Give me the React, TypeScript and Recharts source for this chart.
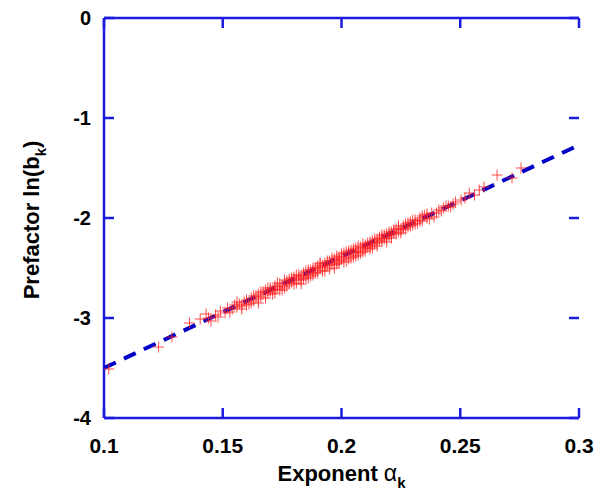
import { ScatterChart, Scatter, XAxis, YAxis, ReferenceLine } from "recharts";

// measured points (exponent alpha_k, prefactor ln(b_k))
const alpha = [
  0.102, 0.123, 0.1286, 0.136, 0.1405, 0.143, 0.144, 0.145, 0.147, 0.149,
  0.151, 0.152, 0.154, 0.155, 0.156, 0.157, 0.158, 0.159, 0.16, 0.161,
  0.162, 0.163, 0.164, 0.165, 0.165, 0.166, 0.167, 0.168, 0.168, 0.169,
  0.17, 0.17, 0.171, 0.172, 0.172, 0.173, 0.174, 0.174, 0.175, 0.176,
  0.176, 0.177, 0.178, 0.178, 0.179, 0.18, 0.18, 0.181, 0.182, 0.182,
  0.183, 0.184, 0.184, 0.185, 0.185, 0.186, 0.187, 0.187, 0.188, 0.189,
  0.189, 0.19, 0.19, 0.191, 0.191, 0.192, 0.193, 0.193, 0.194, 0.195,
  0.195, 0.196, 0.197, 0.197, 0.198, 0.199, 0.199, 0.2, 0.2, 0.201,
  0.202, 0.202, 0.203, 0.204, 0.204, 0.205, 0.206, 0.206, 0.207, 0.208,
  0.208, 0.209, 0.21, 0.21, 0.211, 0.211, 0.212, 0.213, 0.213, 0.214,
  0.215, 0.215, 0.216, 0.217, 0.217, 0.218, 0.219, 0.219, 0.22, 0.221,
  0.221, 0.222, 0.223, 0.224, 0.224, 0.225, 0.226, 0.227, 0.227, 0.228,
  0.229, 0.23, 0.231, 0.232, 0.233, 0.234, 0.235, 0.236, 0.238, 0.239,
  0.241, 0.243, 0.245, 0.247, 0.2504, 0.2538, 0.258, 0.26, 0.2655, 0.2718,
  0.2756,
];
const lnb = [
  -3.51, -3.29, -3.19, -3.05, -3.01, -2.96, -3.0, -3.03, -2.97, -2.93,
  -2.95, -2.9, -2.91, -2.87, -2.89, -2.86, -2.88, -2.84, -2.82, -2.86,
  -2.8, -2.83, -2.78, -2.81, -2.76, -2.79, -2.74, -2.77, -2.72, -2.75,
  -2.7, -2.73, -2.76, -2.68, -2.71, -2.69, -2.72, -2.66, -2.68, -2.65,
  -2.7, -2.63, -2.66, -2.61, -2.64, -2.59, -2.62, -2.65, -2.57, -2.6,
  -2.62, -2.55, -2.58, -2.6, -2.53, -2.56, -2.52, -2.58, -2.54, -2.5,
  -2.55, -2.48, -2.52, -2.46, -2.5, -2.53, -2.45, -2.49, -2.47, -2.43,
  -2.51, -2.45, -2.41, -2.47, -2.43, -2.39, -2.45, -2.41, -2.36, -2.39,
  -2.43, -2.34, -2.37, -2.4, -2.32, -2.35, -2.3, -2.38, -2.33, -2.29,
  -2.35, -2.31, -2.27, -2.33, -2.25, -2.29, -2.31, -2.23, -2.27, -2.25,
  -2.21, -2.28, -2.19, -2.23, -2.17, -2.21, -2.16, -2.24, -2.18, -2.14,
  -2.2, -2.12, -2.16, -2.1, -2.14, -2.12, -2.08, -2.11, -2.06, -2.09,
  -2.04, -2.07, -2.02, -2.05, -2.0, -2.03, -1.97, -2.0, -1.95, -1.99,
  -1.92, -1.9, -1.88, -1.86, -1.82, -1.75, -1.72, -1.69, -1.57, -1.6,
  -1.5,
];
const alphaMore = [
  0.148, 0.153, 0.156, 0.158, 0.16, 0.162, 0.163, 0.165, 0.166, 0.168,
  0.169, 0.171, 0.172, 0.173, 0.175, 0.176, 0.177, 0.179, 0.18, 0.181,
  0.183, 0.183, 0.184, 0.186, 0.186, 0.188, 0.188, 0.19, 0.191, 0.192,
  0.193, 0.194, 0.195, 0.196, 0.197, 0.198, 0.198, 0.199, 0.201, 0.201,
  0.203, 0.203, 0.205, 0.205, 0.206, 0.207, 0.207, 0.209, 0.209, 0.21,
  0.212, 0.212, 0.213, 0.214, 0.215, 0.216, 0.217, 0.218, 0.219, 0.22,
  0.221, 0.222, 0.223, 0.224, 0.225, 0.226, 0.228, 0.229, 0.23, 0.231,
  0.233, 0.234, 0.236, 0.237, 0.24, 0.242, 0.244, 0.246, 0.248, 0.252,
  0.256,
];
const lnbMore = [
  -2.99, -2.94, -2.84, -2.91, -2.87, -2.85, -2.78, -2.85, -2.74, -2.8,
  -2.7, -2.72, -2.75, -2.65, -2.72, -2.62, -2.68, -2.6, -2.66, -2.57,
  -2.58, -2.66, -2.61, -2.52, -2.6, -2.5, -2.57, -2.55, -2.45, -2.48,
  -2.53, -2.43, -2.47, -2.4, -2.5, -2.38, -2.46, -2.42, -2.35, -2.44,
  -2.33, -2.41, -2.31, -2.39, -2.34, -2.28, -2.37, -2.26, -2.34, -2.3,
  -2.24, -2.28, -2.3, -2.21, -2.25, -2.23, -2.2, -2.17, -2.2, -2.14,
  -2.17, -2.15, -2.11, -2.08, -2.15, -2.11, -2.05, -2.08, -2.02, -2.06,
  -2.03, -1.98, -1.96, -2.01, -1.95, -1.93, -1.88, -1.89, -1.84, -1.8,
  -1.77,
];

// fitted line end points
const fitX = [0.1, 0.3];
const fitY = [-3.5, -1.27];

const xTicks = [0.1, 0.15, 0.2, 0.25, 0.3];
const yTicks = [-4, -3, -2, -1, 0];

const points = alpha
  .map((a, i) => ({ x: a, y: lnb[i] }))
  .concat(alphaMore.map((a, i) => ({ x: a, y: lnbMore[i] })));
const fit = fitX.map((a, i) => ({ x: a, y: fitY[i] }));

const AXIS = "#1c1ce0";
const FONT = "'Liberation Sans', Arial, sans-serif";
const X_MIN = 0.1, X_MAX = 0.3, Y_MIN = -4, Y_MAX = 0;
// inward tick length, in axis units (about 10px)
const TX = 0.0042;
const TY = 0.1;

const Plus = (props: any) => {
  const { cx, cy } = props;
  return (
    <path
      d={`M${cx - 5.5},${cy}h11M${cx},${cy - 5.5}v11`}
      stroke="#ff1f1f"
      strokeWidth={1}
      strokeOpacity={0.8}
      fill="none"
    />
  );
};

const Nothing = () => <g />;

const BottomTick = (props: any) => {
  const { x, y, payload } = props;
  return (
    <text x={x} y={y + 35} textAnchor="middle" fontFamily={FONT} fontWeight="bold" fontSize={21} fill="#000">
      {payload.value}
    </text>
  );
};

const LeftTick = (props: any) => {
  const { x, y, payload } = props;
  return (
    <text x={x - 13} y={y + 7} textAnchor="end" fontFamily={FONT} fontWeight="bold" fontSize={20} fill="#000">
      {payload.value}
    </text>
  );
};

const XTitle = (props: any) => {
  const { viewBox } = props;
  const cx = viewBox.x + viewBox.width / 2;
  return (
    <text x={cx} y={481} textAnchor="middle" fontFamily={FONT} fontWeight="bold" fontSize={22} fill="#000">
      Exponent <tspan fontWeight="normal" fontSize={23}>α</tspan>
      <tspan dy={7} fontSize={15}>k</tspan>
    </text>
  );
};

const YTitle = (props: any) => {
  const { viewBox } = props;
  const cy = viewBox.y + viewBox.height / 2 + 2;
  const cx = 39;
  return (
    <text
      x={cx}
      y={cy}
      transform={`rotate(-90, ${cx}, ${cy})`}
      textAnchor="middle"
      fontFamily={FONT}
      fontWeight="bold"
      fontSize={22}
      fill="#000"
    >
      Prefactor ln(b<tspan dy={7} fontSize={15}>k</tspan>
      <tspan dy={-7}>)</tspan>
    </text>
  );
};

export default function App() {
  return (
    <div style={{ position: "absolute", left: 0, top: 0, width: 603, height: 498, background: "#fff" }}>
      <ScatterChart width={603} height={498} margin={{ top: 17, right: 24, bottom: 30, left: 44 }}>
        <XAxis
          xAxisId={0}
          dataKey="x"
          type="number"
          domain={[X_MIN, X_MAX]}
          ticks={xTicks}
          height={50}
          tickSize={0}
          tickMargin={0}
          tick={<BottomTick />}
          axisLine={{ stroke: AXIS, strokeWidth: 2.5 }}
          interval={0}
          allowDataOverflow
          label={<XTitle />}
        />
        <XAxis
          xAxisId="top"
          orientation="top"
          dataKey="x"
          type="number"
          domain={[X_MIN, X_MAX]}
          height={1}
          tick={false}
          tickLine={false}
          axisLine={{ stroke: AXIS, strokeWidth: 2.5 }}
        />
        <YAxis
          yAxisId={0}
          dataKey="y"
          type="number"
          domain={[Y_MIN, Y_MAX]}
          ticks={yTicks}
          width={60}
          tickSize={0}
          tickMargin={0}
          tick={<LeftTick />}
          axisLine={{ stroke: AXIS, strokeWidth: 2.5 }}
          interval={0}
          allowDataOverflow
          label={<YTitle />}
        />
        <YAxis
          yAxisId="right"
          orientation="right"
          dataKey="y"
          type="number"
          domain={[Y_MIN, Y_MAX]}
          width={0}
          tick={false}
          tickLine={false}
          axisLine={{ stroke: AXIS, strokeWidth: 2.5 }}
        />
        {xTicks.map((t) => (
          <ReferenceLine
            key={`xb${t}`}
            segment={[{ x: t, y: Y_MIN }, { x: t, y: Y_MIN + TY }]}
            stroke={AXIS}
            strokeWidth={2.5}
          />
        ))}
        {xTicks.map((t) => (
          <ReferenceLine
            key={`xt${t}`}
            segment={[{ x: t, y: Y_MAX }, { x: t, y: Y_MAX - TY }]}
            stroke={AXIS}
            strokeWidth={2.5}
          />
        ))}
        {yTicks.map((t) => (
          <ReferenceLine
            key={`yl${t}`}
            segment={[{ x: X_MIN, y: t }, { x: X_MIN + TX, y: t }]}
            stroke={AXIS}
            strokeWidth={2.5}
          />
        ))}
        {yTicks.map((t) => (
          <ReferenceLine
            key={`yr${t}`}
            segment={[{ x: X_MAX, y: t }, { x: X_MAX - TX, y: t }]}
            stroke={AXIS}
            strokeWidth={2.5}
          />
        ))}
        <Scatter
          data={fit}
          shape={<Nothing />}
          line={{ stroke: "#0000c8", strokeWidth: 4, strokeDasharray: "13 9" }}
          isAnimationActive={false}
        />
        <Scatter data={points} shape={<Plus />} isAnimationActive={false} />
      </ScatterChart>
    </div>
  );
}
